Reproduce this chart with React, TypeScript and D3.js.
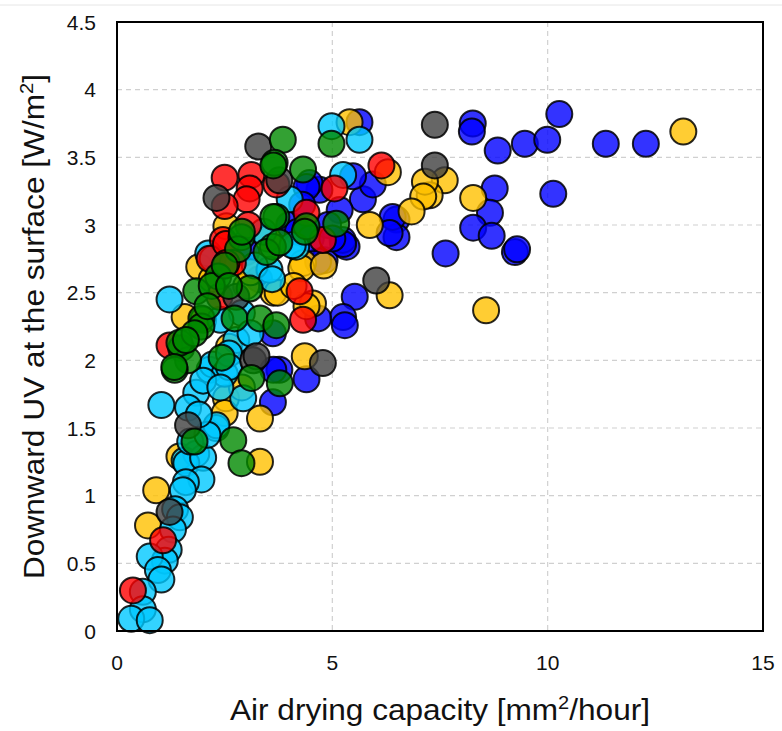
import React from 'react';
import * as d3 from 'd3';

// [air drying capacity, downward UV] pairs, one array per colour group
const blueData: [number, number][] = [
  [8.26, 3.75], [8.24, 3.69], [8.84, 3.55], [9.47, 3.6], [9.99, 3.63], [10.27, 3.82],
  [11.35, 3.6], [12.28, 3.6], [10.13, 3.23], [8.77, 3.27], [8.66, 3.09], [8.27, 2.98],
  [8.7, 2.92], [9.24, 2.8], [9.29, 2.82], [7.63, 2.79], [5.63, 3.76], [6.49, 3.04],
  [6.49, 2.91], [5.71, 3.19], [5.94, 3.3], [5.48, 3.36], [4.7, 3.26], [4.47, 3.31],
  [5.17, 3.11], [5.33, 2.84], [4.82, 2.74], [4.4, 3.28], [6.4, 3.06], [5.24, 2.89],
  [6.33, 2.94], [5.25, 2.86], [5.52, 2.47], [5.25, 2.32], [5.29, 2.26], [4.67, 2.31],
  [4.67, 2.73], [3.62, 2.2], [4.4, 1.86], [3.77, 1.93], [3.63, 1.93], [3.62, 1.69],
  [4.0, 3.0], [4.2, 2.95], [3.0, 2.8], [3.3, 2.6], [4.5, 2.9], [4.9, 3.0], [5.0, 2.9],
  [4.3, 3.15],
];
const goldData: [number, number][] = [
  [13.15, 3.69], [8.27, 3.2], [8.57, 2.37], [7.61, 3.33], [7.26, 3.22], [5.4, 3.76],
  [6.29, 3.39], [7.15, 3.32], [7.11, 3.21], [6.84, 3.1], [5.87, 3.0], [4.32, 2.72],
  [2.54, 2.99], [1.91, 2.69], [3.63, 2.5], [6.33, 2.48], [4.55, 2.42], [3.73, 2.5],
  [4.36, 2.03], [4.4, 2.4], [4.28, 2.68], [3.32, 1.57], [2.53, 1.72], [2.5, 1.61],
  [3.32, 1.25], [1.45, 1.29], [1.57, 2.32], [0.91, 1.04], [0.72, 0.78], [2.9, 1.8],
  [3.0, 2.55], [3.1, 2.65], [2.2, 2.6], [2.6, 2.1], [2.0, 2.3], [3.5, 2.9], [4.1, 2.55],
  [4.8, 2.7],
];
const cyanData: [number, number][] = [
  [4.98, 3.73], [5.63, 3.63], [5.25, 3.37], [4.01, 3.19], [4.16, 2.84], [2.12, 2.79],
  [3.54, 2.67], [2.22, 2.75], [4.08, 2.85], [1.22, 2.45], [2.77, 2.15], [2.15, 1.93],
  [2.22, 1.97], [1.84, 1.76], [1.03, 1.67], [1.65, 1.65], [2.93, 1.72], [2.3, 1.5],
  [2.31, 1.52], [1.84, 1.31], [1.57, 1.26], [1.61, 1.24], [2.0, 1.28], [1.96, 1.12],
  [1.6, 1.1], [1.53, 1.04], [1.35, 0.9], [1.46, 0.84], [1.3, 0.75], [1.2, 0.6],
  [1.11, 0.52], [0.76, 0.55], [0.95, 0.45], [1.03, 0.38], [0.6, 0.29], [0.6, 0.16],
  [0.33, 0.09], [0.76, 0.08], [1.7, 1.4], [2.1, 1.45], [1.9, 1.6], [2.5, 1.9],
  [2.6, 2.05], [3.2, 2.7], [3.4, 2.95], [3.6, 2.6], [2.9, 2.35], [3.1, 2.2], [2.4, 2.3],
  [2.6, 1.95], [2.0, 1.85], [2.4, 1.8],
];
const redData: [number, number][] = [
  [2.5, 3.35], [3.12, 3.37], [3.08, 3.27], [3.01, 3.19], [2.5, 3.14], [3.7, 3.3],
  [3.05, 3.0], [2.46, 2.89], [2.15, 2.75], [2.53, 2.86], [2.69, 2.72], [2.38, 2.47],
  [4.24, 2.51], [4.32, 2.3], [4.78, 2.89], [4.4, 3.09], [5.05, 3.27], [6.14, 3.44],
  [2.54, 2.72], [1.22, 2.11], [1.07, 0.67], [0.37, 0.3],
];
const grayData: [number, number][] = [
  [3.28, 3.58], [2.31, 3.2], [3.77, 3.33], [7.38, 3.74], [7.38, 3.44], [6.02, 2.59],
  [4.78, 1.98], [3.16, 2.0], [2.77, 2.47], [1.65, 1.52], [1.22, 0.88], [3.24, 2.03],
];
const greenData: [number, number][] = [
  [3.85, 3.63], [4.98, 3.6], [3.66, 3.46], [3.63, 3.44], [4.32, 3.41], [3.7, 3.06],
  [3.62, 2.84], [5.09, 3.01], [4.4, 2.99], [3.63, 3.06], [2.89, 2.91], [2.81, 2.82],
  [3.47, 2.8], [3.77, 2.87], [4.36, 2.95], [2.35, 2.62], [1.84, 2.51], [3.08, 2.53],
  [1.96, 2.31], [1.96, 2.25], [2.73, 2.31], [3.32, 2.31], [3.7, 2.26], [1.49, 2.09],
  [1.65, 2.0], [1.34, 1.93], [1.45, 2.13], [1.33, 1.95], [2.43, 2.02], [3.12, 1.87],
  [3.78, 1.83], [1.8, 1.4], [2.7, 1.41], [2.89, 1.24], [2.2, 2.55], [2.5, 2.7],
  [2.9, 2.95], [2.6, 2.55], [2.1, 2.4], [1.8, 2.2], [1.6, 2.15],
];

const xTicks = [0, 5, 10, 15];
const yTicks = [0, 0.5, 1, 1.5, 2, 2.5, 3, 3.5, 4, 4.5];

const series = [
  { data: blueData, color: '#0000ff' },
  { data: goldData, color: '#ffc000' },
  { data: cyanData, color: '#00c8ff' },
  { data: redData, color: '#ff0000' },
  { data: grayData, color: '#404040' },
  { data: greenData, color: '#008a00' },
];

const W = 782;
const H = 731;
const left = 117;
const right = 763;
const top = 22;
const bottom = 631;

export default function App() {
  const x = d3.scaleLinear().domain([0, 15]).range([left, right]);
  const y = d3.scaleLinear().domain([0, 4.5]).range([bottom, top]);
  const font = 'Liberation Sans, Arial, Helvetica, sans-serif';

  return (
    <svg width={W} height={H} style={{ position: 'absolute', left: 0, top: 0 }}>
      <rect width={W} height={H} fill="#fff" />
      <line x1={0} x2={W} y1={5} y2={5} stroke="#e6e6e6" strokeWidth={1} />

      {/* grid */}
      {xTicks.slice(1, -1).map((t) => (
        <line key={'gx' + t} x1={x(t)} x2={x(t)} y1={top} y2={bottom}
          stroke="#d0d0d0" strokeWidth={1.2} strokeDasharray="5,4" />
      ))}
      {yTicks.slice(1, -1).map((t) => (
        <line key={'gy' + t} x1={left} x2={right} y1={y(t)} y2={y(t)}
          stroke="#d0d0d0" strokeWidth={1.2} strokeDasharray="5,4" />
      ))}

      {/* points */}
      {series.map((s, i) => (
        <g key={i}>
          {s.data.map((d, j) => (
            <circle key={j} cx={x(d[0])} cy={y(d[1])} r={13}
              fill={s.color} fillOpacity={0.8}
              stroke="#000" strokeOpacity={0.85} strokeWidth={2} />
          ))}
        </g>
      ))}

      <rect x={left} y={top} width={right - left} height={bottom - top}
        fill="none" stroke="#000" strokeWidth={2} />

      {/* tick labels */}
      {xTicks.map((t) => (
        <text key={'tx' + t} x={x(t)} y={670} textAnchor="middle"
          fontFamily={font} fontSize={21} fill="#111">{t}</text>
      ))}
      {yTicks.map((t) => (
        <text key={'ty' + t} x={96} y={y(t) + 7.5} textAnchor="end"
          fontFamily={font} fontSize={21} fill="#111">{t}</text>
      ))}

      {/* axis titles */}
      <text x={(left + right) / 2} y={720} textAnchor="middle" fontFamily={font}
        fontSize={30} fill="#111" textLength={420} lengthAdjust="spacingAndGlyphs">
        Air drying capacity [mm<tspan fontSize={19} dy={-11}>2</tspan>
        <tspan dy={11}>/hour]</tspan>
      </text>
      <text transform={`translate(44,${(top + bottom) / 2}) rotate(-90)`}
        textAnchor="middle" fontFamily={font} fontSize={30} fill="#111"
        textLength={505} lengthAdjust="spacingAndGlyphs">
        Downward UV at the surface [W/m<tspan fontSize={19} dy={-11}>2</tspan>
        <tspan dy={11}>]</tspan>
      </text>
    </svg>
  );
}
